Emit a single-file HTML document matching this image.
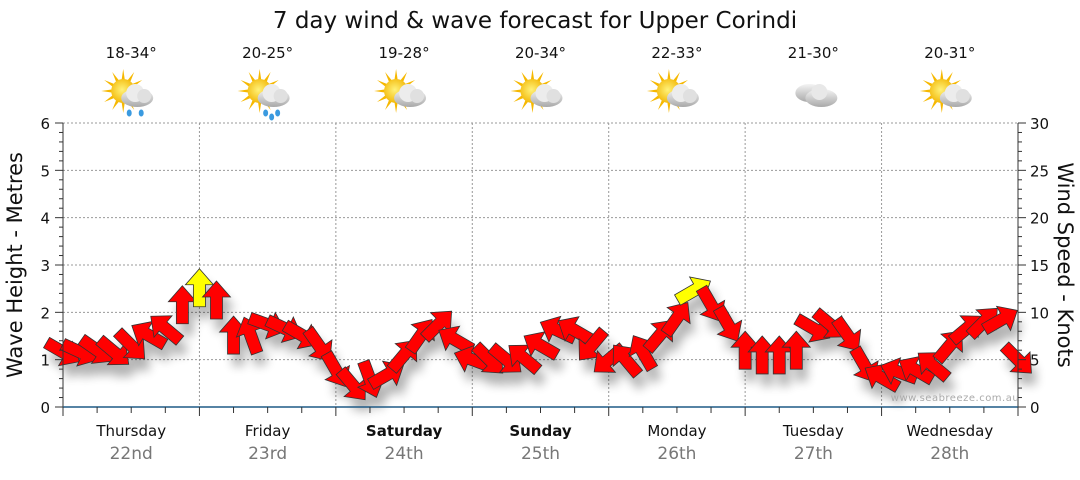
<!DOCTYPE html>
<html><head><meta charset="utf-8">
<style>
html,body{margin:0;padding:0;background:#fff;}
body{width:1080px;height:475px;overflow:hidden;font-family:"Liberation Sans","DejaVu Sans",sans-serif;}
svg text{font-family:"DejaVu Sans","Liberation Sans",sans-serif;}
</style></head>
<body>
<svg id="chart" width="1080" height="475" viewBox="0 0 1080 475" xmlns="http://www.w3.org/2000/svg">
<defs>
<filter id="sh" x="-50%" y="-50%" width="200%" height="200%"><feGaussianBlur stdDeviation="5"/></filter>
<radialGradient id="sun" cx="0.45" cy="0.45" r="0.6"><stop offset="0" stop-color="#fff27a"/><stop offset="1" stop-color="#f2b400"/></radialGradient>
<linearGradient id="cloud" x1="0" y1="0" x2="0" y2="1"><stop offset="0" stop-color="#f4f4f4"/><stop offset="1" stop-color="#a9a9a9"/></linearGradient>
</defs>
<text x="535" y="28" text-anchor="middle" font-size="23" fill="#111">7 day wind &amp; wave forecast for Upper Corindi</text>
<g id="grid"></g>
<g id="icons"></g>
<g id="shadows" filter="url(#sh)" opacity="0.3"></g>
<g id="arrows"></g>
<g id="axes"></g>
<text x="955" y="401" text-anchor="middle" font-size="10" fill="#aaa" letter-spacing="0.5">www.seabreeze.com.au</text>
<text transform="translate(22,265) rotate(-90)" text-anchor="middle" font-size="21" fill="#111">Wave Height - Metres</text>
<text transform="translate(1058,265) rotate(90)" text-anchor="middle" font-size="21" fill="#111">Wind Speed - Knots</text>
</svg>
<script>
const days=["Thursday","Friday","Saturday","Sunday","Monday","Tuesday","Wednesday"];
const dates=["22nd","23rd","24th","25th","26th","27th","28th"];
const temps=["18-34°","20-25°","19-28°","20-34°","22-33°","21-30°","20-31°"];
const icons=["sun-rain","sun-rain","sun-cloud","sun-cloud","sun-cloud","cloud","sun-cloud"];
const waveTicks=[0,1,2,3,4,5,6];
const windTicks=[0,5,10,15,20,25,30];
const hours=[0,3,6,9,12,15,18,21,24,27,30,33,36,39,42,45,48,51,54,57,60,63,66,69,72,75,78,81,84,87,90,93,96,99,102,105,108,111,114,117,120,123,126,129,132,135,138,141,144,147,150,153,156,159,162,165,168];
const windKts=[5.8,5.8,6.0,5.8,6.5,7.6,8.3,10.8,12.6,11.3,7.6,7.6,8.7,8.3,7.6,6.5,3.9,2.3,2.9,3.4,5.5,7.6,8.7,7.1,5.0,5.0,5.0,5.2,6.5,8.1,8.1,6.5,5.0,5.0,5.8,7.6,9.4,12.3,10.8,8.7,6.0,5.5,5.5,6.0,8.3,8.7,7.6,4.4,3.1,3.7,3.9,4.4,6.5,8.3,9.0,9.2,5.0];
const windDir=[120,115,125,130,135,300,310,0,0,0,0,340,110,115,120,145,150,140,160,60,40,35,45,300,290,135,130,310,300,295,300,220,230,320,330,40,35,60,150,150,0,0,0,0,120,130,145,150,300,290,300,310,40,50,45,60,135];
const X0=63,X1=1018,Y0=407,Y1=123;
const xh=h=>X0+h*(X1-X0)/168;
const yw=m=>Y0-m*(Y0-Y1)/6;
const yk=k=>Y0-k*(Y0-Y1)/30;
const NS="http://www.w3.org/2000/svg";
function mk(p,t,a){const e=document.createElementNS(NS,t);for(const k in a)e.setAttribute(k,a[k]);p.appendChild(e);return e;}
const grid=document.getElementById('grid'),axes=document.getElementById('axes'),ic=document.getElementById('icons');
waveTicks.forEach(m=>{if(m>0){const l=mk(grid,'line',{x1:X0,x2:X1,y1:yw(m),y2:yw(m),stroke:'#999','stroke-dasharray':'2,2'});

}
const t=mk(axes,'text',{x:50,y:yw(m)+6,'text-anchor':'end','font-size':'15',fill:'#111'});t.textContent=m;

});
for(let i=0;i<=30;i++){const y=Y0-i*(Y0-Y1)/30;mk(axes,'line',{x1:X0-(i%5?4:8),x2:X0,y1:y,y2:y,stroke:'#333'});mk(axes,'line',{x1:X1,x2:X1+(i%5?4:8),y1:y,y2:y,stroke:'#333'});}
windTicks.forEach(k=>{const t=mk(axes,'text',{x:1030,y:yk(k)+6,'font-size':'15',fill:'#111'});t.textContent=k;

});
mk(axes,'line',{x1:X0,x2:X0,y1:Y1,y2:Y0,stroke:'#333'});
mk(axes,'line',{x1:X1,x2:X1,y1:Y1,y2:Y0,stroke:'#333'});
mk(axes,'line',{x1:X0,x2:X1,y1:Y0,y2:Y0,stroke:'#1f5a85','stroke-width':1.5});
for(let h=0;h<=168;h+=6){mk(axes,'line',{x1:xh(h),x2:xh(h),y1:Y0,y2:Y0+(h%24?6:9),stroke:'#333'});}
days.forEach((d,i)=>{const cx=xh(i*24+12);
if(i>0){const l=mk(grid,'line',{x1:xh(i*24),x2:xh(i*24),y1:Y1,y2:Y0,stroke:'#999','stroke-dasharray':'2,2'});

}
const t=mk(axes,'text',{x:cx,y:436,'text-anchor':'middle','font-size':'15',fill:'#111','font-weight':(i==2||i==3)?'bold':'normal'});t.textContent=d;


const t2=mk(axes,'text',{x:cx,y:459,'text-anchor':'middle','font-size':'17',fill:'#777'});t2.textContent=dates[i];


const t3=mk(ic,'text',{x:cx,y:58,'text-anchor':'middle','font-size':'15',fill:'#111'});t3.textContent=temps[i];


const g=mk(ic,'g',{transform:`translate(${cx},95)`});


const typ=icons[i];
if(typ!=='cloud'){for(let a=0;a<360;a+=30){const r=a*Math.PI/180;mk(g,'polygon',{points:`${-8+Math.cos(r-0.15)*11},${-4+Math.sin(r-0.15)*11} ${-8+Math.cos(r)*22},${-4+Math.sin(r)*22} ${-8+Math.cos(r+0.15)*11},${-4+Math.sin(r+0.15)*11}`,fill:'#f6b800'});}
mk(g,'circle',{cx:-8,cy:-4,r:12,fill:'url(#sun)'});
mk(g,'ellipse',{cx:6,cy:3,rx:16,ry:9,fill:'url(#cloud)'});mk(g,'circle',{cx:4,cy:-2,r:9,fill:'#ececec'});mk(g,'circle',{cx:13,cy:1,r:7,fill:'#e0e0e0'});
if(typ==='sun-rain'){[[-2,18],[10,18],[4,22]].slice(0,i==1?3:2).forEach(p=>mk(g,'ellipse',{cx:p[0],cy:p[1],rx:2.5,ry:3.5,fill:'#3a9ae0'}));}}
else{mk(g,'ellipse',{cx:-4,cy:-2,rx:14,ry:9,fill:'url(#cloud)'});mk(g,'ellipse',{cx:8,cy:3,rx:16,ry:9,fill:'url(#cloud)'});mk(g,'circle',{cx:6,cy:-3,r:8,fill:'#e8e8e8'});}
});
const sh=document.getElementById('shadows'),ar=document.getElementById('arrows');
const pts="0,-19 14,-3 6,-3 6,19 -6,19 -6,-3 -14,-3";
hours.forEach((h,i)=>{const x=xh(h),y=yk(windKts[i]);
mk(sh,'polygon',{points:pts,transform:`translate(${x+5},${y+12}) rotate(${windDir[i]})`,fill:'#000'});
const p=mk(ar,'polygon',{points:pts,transform:`translate(${x},${y}) rotate(${windDir[i]})`,fill:windKts[i]>=12?'#ffff00':'#ff0000',stroke:'#333','stroke-width':0.8});

});
</script>
</body></html>
